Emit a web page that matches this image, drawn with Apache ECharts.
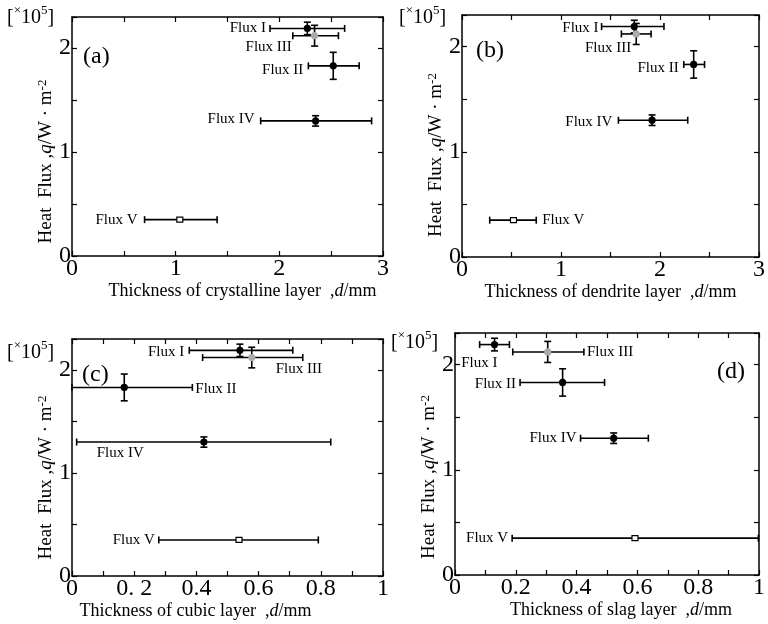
<!DOCTYPE html>
<html><head><meta charset="utf-8">
<script src="https://cdn.jsdelivr.net/npm/echarts@6/dist/echarts.min.js"></script>
<style>html,body{margin:0;padding:0;background:#fff}#c{width:768px;height:624px}</style>
</head><body><div id="c"></div>
<script>
// ---- data ----
const fluxNames = ['Flux I', 'Flux II', 'Flux III', 'Flux IV', 'Flux V'];
const heatFlux = [2.19, 1.83, 2.12, 1.30, 0.35];      // x10^5 W/m2
const heatFluxErr = [0.06, 0.13, 0.10, 0.05, 0.01];

const crystX   = [2.27, 2.52, 2.34, 2.35, 1.04];
const crystLo  = [1.91, 2.28, 2.13, 1.82, 0.70];
const crystHi  = [2.63, 2.77, 2.57, 2.89, 1.40];

const dendX    = [1.74, 2.34, 1.76, 1.92, 0.52];
const dendLo   = [1.41, 2.24, 1.61, 1.58, 0.28];
const dendHi   = [2.04, 2.45, 1.91, 2.28, 0.75];

const cubicX   = [0.54, 0.168, 0.578, 0.424, 0.537];
const cubicLo  = [0.377, 0.0, 0.42, 0.015, 0.279];
const cubicHi  = [0.71, 0.387, 0.742, 0.832, 0.792];

const slagX    = [0.13, 0.354, 0.305, 0.522, 0.592];
const slagLo   = [0.081, 0.214, 0.19, 0.413, 0.188];
const slagHi   = [0.179, 0.492, 0.424, 0.636, 0.998];

const thickTicksAB = ['0', '1', '2', '3'];
const cubicTicks = ['0', '0. 2', '0.4', '0.6', '0.8', '1'];
const slagTicks  = ['0', '0.2', '0.4', '0.6', '0.8', '1'];
const heatTicks  = ['0', '1', '2'];

// ---- layout / style config ----
const FONT = '"Liberation Serif", "DejaVu Serif", serif';
const panels = [
  {key:'a', grid:{left:72, top:17, width:311, height:239}, xmax:3, xint:0.5, xTicks:thickTicksAB, xStep:1,
   xs:crystX, lo:crystLo, hi:crystHi, xname:'Thickness of crystalline layer  ,', namePad:[0,0,0,30], nameGap:25, yPad:[0,50,0,0],
   lab:[['lo',-4,0,'right'],['lo',-5,4,'right'],['lo',-1,11,'right'],['lo',-6,-2,'right'],['lo',-7,0,'right']],
   tag:{x:83,y:45}, mult:{x:7,y:4}},
  {key:'b', grid:{left:462, top:15, width:316, height:242}, xmax:3, xint:0.5, xTicks:thickTicksAB, xStep:1,
   xs:dendX, lo:dendLo, hi:dendHi, xname:'Thickness of dendrite layer  ,', namePad:[0,0,0,0], nameGap:17, yPad:[0,38,0,0],
   lab:[['lo',-3,1,'right'],['lo',-5,4,'right'],['pt',-5,14,'right'],['lo',-6,2,'right'],['hi',6,0,'left']],
   tag:{x:476,y:39}, mult:{x:399,y:4}},
  {key:'c', grid:{left:72, top:339, width:311, height:237}, xmax:1, xint:0.1, xTicks:cubicTicks, xStep:0.2,
   xs:cubicX, lo:cubicLo, hi:cubicHi, xname:'Thickness of cubic layer  ,', namePad:[0,64,0,0], nameGap:25, yPad:[0,40,0,0],
   lab:[['lo',-5,2,'right'],['hi',3,2,'left'],['pt',24,12,'left'],['lo',20,11,'left'],['lo',-4,0,'right']],
   tag:{x:82,y:363}, mult:{x:7,y:339}},
  {key:'d', grid:{left:455, top:333, width:308, height:242}, xmax:1, xint:0.1, xTicks:slagTicks, xStep:0.2,
   xs:slagX, lo:slagLo, hi:slagHi, xname:'Thickness of slag layer  ,', namePad:[0,0,0,28], nameGap:24, yPad:[0,46,0,0],
   lab:[['pt',3,18,'right'],['lo',-4,2,'right'],['hi',3,0,'left'],['lo',-4,0,'right'],['lo',-4,0,'right']],
   tag:{x:717,y:360}, mult:{x:391,y:329}}
];

const axisLineStyle = {color:'#000', width:1.5};
function isMult(v, step){ const k = v/step; return Math.abs(k - Math.round(k)) < 1e-6; }

const option = {animation:false, backgroundColor:'#fff', grid:[], xAxis:[], yAxis:[], series:[], graphic:[]};

panels.forEach((P, gi) => {
  option.grid.push(Object.assign({containLabel:false}, P.grid));
  // bottom x axis
  option.xAxis.push({type:'value', gridIndex:gi, min:0, max:P.xmax, interval:P.xint, position:'bottom',
    axisLine:{show:true, lineStyle:axisLineStyle, onZero:false},
    axisTick:{show:true, inside:true, length:5, lineStyle:{color:'#000', width:1.2}},
    splitLine:{show:false},
    axisLabel:{show:true, margin:1, color:'#000', fontFamily:FONT, fontSize:24,
      formatter: v => isMult(v, P.xStep) ? P.xTicks[Math.round(v/P.xStep)] : ''},
    name: P.xname + '{i|d}/mm', nameLocation:'middle', nameGap:P.nameGap,
    nameTextStyle:{color:'#000', fontFamily:FONT, fontSize:18, padding:P.namePad, verticalAlign:'top',
      rich:{i:{fontStyle:'italic', fontFamily:FONT, fontSize:18, color:'#000'}}}
  });
  // top x axis
  option.xAxis.push({type:'value', gridIndex:gi, min:0, max:P.xmax, interval:P.xint, position:'top',
    axisLine:{show:true, lineStyle:axisLineStyle, onZero:false},
    axisTick:{show:true, inside:true, length:5, lineStyle:{color:'#000', width:1.2}},
    splitLine:{show:false}, axisLabel:{show:false}});
  // left y axis
  option.yAxis.push({type:'value', gridIndex:gi, min:0, max:2.3, interval:0.5, position:'left',
    axisLine:{show:true, lineStyle:axisLineStyle, onZero:false},
    axisTick:{show:true, inside:true, length:5, lineStyle:{color:'#000', width:1.2}},
    splitLine:{show:false},
    axisLabel:{show:true, margin:1, color:'#000', fontFamily:FONT, fontSize:24,
      formatter: v => isMult(v, 1) ? heatTicks[Math.round(v)] : ''},
    name:'Heat  Flux ,{i|q}/W · m{s|-2}', nameLocation:'middle', nameGap:16,
    nameTextStyle:{color:'#000', fontFamily:FONT, fontSize:19, padding:P.yPad,
      rich:{i:{fontStyle:'italic', fontFamily:FONT, fontSize:19, color:'#000'},
            s:{fontFamily:FONT, fontSize:13, color:'#000', verticalAlign:'top', lineHeight:12}}}
  });
  // right y axis
  option.yAxis.push({type:'value', gridIndex:gi, min:0, max:2.3, interval:0.5, position:'right',
    axisLine:{show:true, lineStyle:axisLineStyle, onZero:false},
    axisTick:{show:true, inside:true, length:5, lineStyle:{color:'#000', width:1.2}},
    splitLine:{show:false}, axisLabel:{show:false}});

  const rows = fluxNames.map((n, i) => [P.xs[i], heatFlux[i], P.lo[i], P.hi[i],
    heatFlux[i] - heatFluxErr[i], heatFlux[i] + heatFluxErr[i], i]);

  option.series.push({
    type:'custom', xAxisIndex:gi*2, yAxisIndex:gi*2, data:rows,
    dimensions:['x','y','xlo','xhi','ylo','yhi','idx'], encode:{x:0, y:1},
    renderItem: (params, api) => {
      const i = api.value(6);
      const x = api.value(0), y = api.value(1);
      const p = api.coord([x, y]);
      const lo = api.coord([api.value(2), y]);
      const hi = api.coord([api.value(3), y]);
      const yb = api.coord([x, api.value(4)]);
      const yt = api.coord([x, api.value(5)]);
      const ls = {stroke:'#000', lineWidth:1.6};
      const c = 3.5;
      const kids = [
        {type:'line', shape:{x1:lo[0], y1:lo[1], x2:hi[0], y2:hi[1]}, style:ls},
        {type:'line', shape:{x1:lo[0], y1:lo[1]-c, x2:lo[0], y2:lo[1]+c}, style:ls},
        {type:'line', shape:{x1:hi[0], y1:hi[1]-c, x2:hi[0], y2:hi[1]+c}, style:ls}
      ];
      if (Math.abs(yb[1] - yt[1]) > 3) {
        kids.push({type:'line', shape:{x1:yb[0], y1:yb[1], x2:yt[0], y2:yt[1]}, style:ls});
        kids.push({type:'line', shape:{x1:yb[0]-c, y1:yb[1], x2:yb[0]+c, y2:yb[1]}, style:ls});
        kids.push({type:'line', shape:{x1:yt[0]-c, y1:yt[1], x2:yt[0]+c, y2:yt[1]}, style:ls});
      }
      if (i === 4) {
        kids.push({type:'rect', shape:{x:p[0]-3, y:p[1]-2.5, width:6, height:5},
          style:{fill:'#fff', stroke:'#000', lineWidth:1.2}});
      } else {
        kids.push({type:'circle', shape:{cx:p[0], cy:p[1], r:3.6},
          style:{fill: i === 2 ? '#aaaaaa' : '#000', stroke:'none'}});
      }
      const L = P.lab[i];
      const a = L[0] === 'lo' ? lo : (L[0] === 'hi' ? hi : p);
      kids.push({type:'text', style:{text:fluxNames[i], x:a[0]+L[1], y:a[1]+L[2], align:L[3],
        verticalAlign:'middle', fontFamily:FONT, fontSize:15, fill:'#000'}});
      return {type:'group', children:kids};
    }
  });

  option.graphic.push({type:'text', left:P.tag.x, top:P.tag.y,
    style:{text:'(' + P.key + ')', fontFamily:FONT, fontSize:24, fill:'#000'}});
  option.graphic.push({type:'text', left:P.mult.x, top:P.mult.y,
    style:{text:'{b|[}{s|×}{b|10}{s|5}{b|]}', rich:{
      b:{fontFamily:FONT, fontSize:20, lineHeight:24, verticalAlign:'bottom', fill:'#000'},
      s:{fontFamily:FONT, fontSize:13, lineHeight:14, verticalAlign:'top', fill:'#000'}}}});
});

const chart = echarts.init(document.getElementById('c'), null, {renderer:'canvas'});
chart.setOption(option);
</script></body></html>
